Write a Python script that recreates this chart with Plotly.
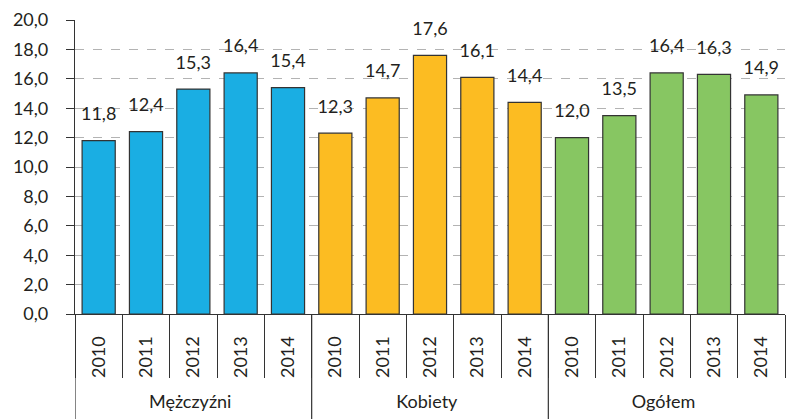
import plotly.graph_objects as go

groups = ["Mężczyźni", "Kobiety", "Ogółem"]
years = ["2010", "2011", "2012", "2013", "2014"]
men = [11.8, 12.4, 15.3, 16.4, 15.4]
women = [12.3, 14.7, 17.6, 16.1, 14.4]
total = [12.0, 13.5, 16.4, 16.3, 14.9]
colors = ["#1aaee3", "#fcbc22", "#87c662"]

# a little invisible padding under each year so the group names sit lower
pad = "\u00a0" * 2
year_labels = [pad + y for y in years]

fig = go.Figure()
for name, vals, col in zip(groups, [men, women, total], colors):
    x = [[name] * len(years), year_labels]
    fig.add_trace(go.Bar(
        x=x, y=vals,
        marker=dict(color=col, line=dict(color="#333333", width=1.2)),
        showlegend=False, hoverinfo="skip",
    ))
    # value labels: invisible markers push the text up a bit above the bar
    fig.add_trace(go.Scatter(
        x=x, y=vals, mode="markers+text",
        marker=dict(size=24, color="rgba(0,0,0,0)"),
        text=[f"{v:.1f}".replace(".", ",") for v in vals],
        textposition="top center",
        textfont=dict(size=18, color="#231f20"),
        cliponaxis=False, showlegend=False, hoverinfo="skip",
    ))

n = len(groups) * len(years)

# group separators running down through the category labels
for b in [-0.5, 4.5, 9.5]:
    fig.add_shape(type="line", xref="x", yref="paper",
                  x0=b, x1=b, y0=0, y1=-105 / 294,
                  line=dict(color="#333333", width=1.2))

fig.update_layout(
    width=786, height=419,
    margin=dict(l=75, r=1, t=20, b=105),
    plot_bgcolor="white", paper_bgcolor="white",
    font=dict(family="Lato", size=18, color="#231f20"),
    separators=", ",
    bargap=0.3,
    barmode="group",
)
fig.update_yaxes(
    range=[0, 20], dtick=2, tickformat=".1f", automargin=False,
    showgrid=True, gridcolor="#b3b3b3", griddash="dash", gridwidth=1,
    showline=True, linecolor="#333333", linewidth=1.2,
    ticks="outside", ticklen=8, tickcolor="#333333",
    ticklabelstandoff=14,
    zeroline=False,
)
fig.update_xaxes(
    range=[-0.5, n - 0.5], automargin=False,
    showline=True, linecolor="#333333", linewidth=1.2,
    ticks="outside", ticklen=63, tickcolor="#333333", tickson="boundaries",
    tickangle=-90, ticklabelstandoff=14,
    showdividers=False,
)

fig.write_html("out.html", config={"displayModeBar": False},
               post_script="document.body.style.margin='0';")
